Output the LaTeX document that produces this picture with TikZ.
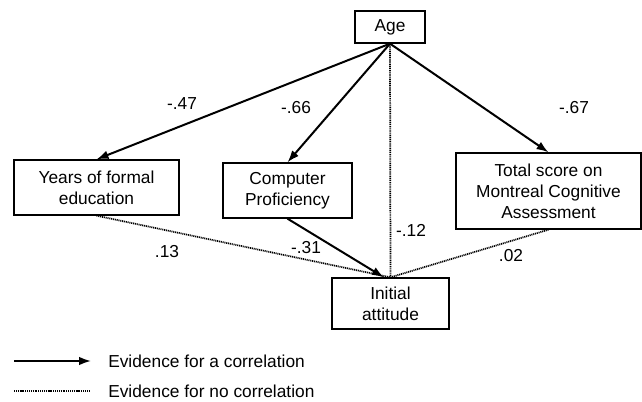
\documentclass[tikz,border=0pt]{standalone}
\usepackage{fontspec}
\setmainfont{Liberation Sans}
\usetikzlibrary{arrows.meta}

\begin{document}
\begin{tikzpicture}[x=0.75pt, y=-0.75pt, font=\fontsize{13}{15.75}\selectfont,
		box/.style={draw, line width=1pt, align=center, inner sep=0pt},
		corr/.style={-{Latex[length=9pt,width=6.5pt]}, line width=1.5pt},
		nocorr/.style={line width=1.3pt, dash pattern=on 0.8pt off 0.6pt},
		coef/.style={inner sep=1pt}]
		\useasboundingbox (0,0) rectangle (642,402);

		\node [box, minimum width=52.5pt, minimum height=24pt] (Age) at (390,27) {Age};
		\node [box, minimum width=123.75pt, minimum height=41.25pt] (Edu) at (96.5,187.5) {Years of formal\\education};
		\node [box, minimum width=96.75pt, minimum height=41.25pt] (Comp) at (287.5,190.5) {Computer\\Proficiency};
		\node [box, minimum width=138.75pt, minimum height=57pt] (MoCA) at (548.5,191) {Total score on\\Montreal Cognitive\\Assessment};
		\node [box, minimum width=87.75pt, minimum height=38.25pt] (Att) at (390.5,303.5) {Initial\\attitude};

		\path[corr] (Age.south) edge (Edu.north);
		\path[corr] (Age.south) edge (Comp.north);
		\path[corr] (Age.south) edge (MoCA.north);
		\path[corr] (Comp.south) edge ([xshift=-5pt]Att.north);
		\path[nocorr] (Age.south) edge (Att.north);
		\path[nocorr] (Edu.south) edge (Att.north);
		\path[nocorr] (MoCA.south) edge (Att.north);

		\node [coef] (cAgeEdu) at (182,104) {-.47};
		\node [coef] (cAgeComp) at (296,108) {-.66};
		\node [coef] (cAgeMoCA) at (574,108) {-.67};
		\node [coef] (cAgeAtt) at (411,230) {-.12};
		\node [coef] (cEduAtt) at (167,252) {.13};
		\node [coef] (cCompAtt) at (306,248) {-.31};
		\node [coef] (cMoCAAtt) at (511,256) {.02};

		% legend
		\coordinate (k1a) at (14,361);
		\coordinate (k1b) at (91,361);
		\coordinate (k2a) at (14,391);
		\coordinate (k2b) at (90,391);
		\path[corr] (k1a) edge (k1b);
		\path[nocorr, line width=0.9pt] (k2a) edge (k2b);
		\node [anchor=west, inner sep=0pt] (tCorr) at (108,361) {Evidence for a correlation};
		\node [anchor=west, inner sep=0pt] (tNoCorr) at (108,391) {Evidence for no correlation};
	\end{tikzpicture}
\end{document}
